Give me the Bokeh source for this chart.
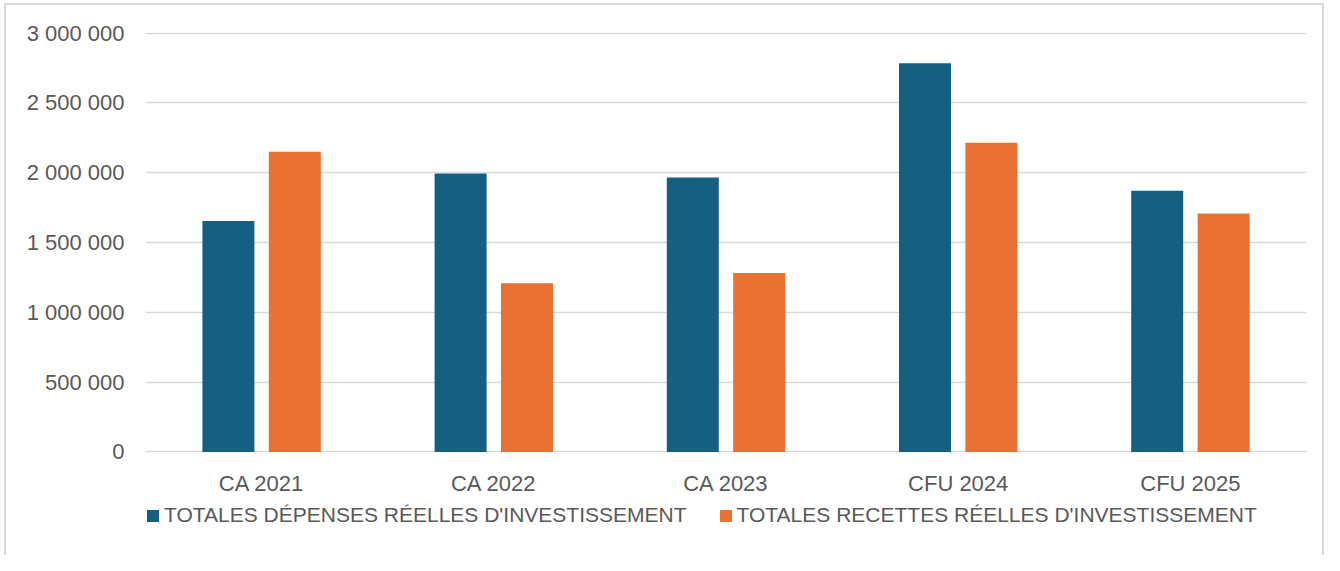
from bokeh.plotting import figure
from bokeh.layouts import column
from bokeh.models import ColumnDataSource, FactorRange, FixedTicker, Legend, LegendItem, Range1d
from bokeh.transform import dodge
from bokeh.embed import file_html
from bokeh.resources import INLINE

categories = ["CA 2021", "CA 2022", "CA 2023", "CFU 2024", "CFU 2025"]
depenses = [1654000, 1995000, 1966000, 2784000, 1870000]
recettes = [2150000, 1209000, 1281000, 2214000, 1707000]
series_names = ["TOTALES DÉPENSES RÉELLES D'INVESTISSEMENT",
                "TOTALES RECETTES RÉELLES D'INVESTISSEMENT"]
y_ticks = [0, 500000, 1000000, 1500000, 2000000, 2500000, 3000000]
y_tick_labels = ["0", "500 000", "1 000 000", "1 500 000", "2 000 000", "2 500 000", "3 000 000"]

BLUE = "#156082"
ORANGE = "#E97132"
TEXT = "#595959"
GRID = "#D9D9D9"
FONT = "Liberation Sans"

src = ColumnDataSource(dict(cat=categories, dep=depenses, rec=recettes))

# ---- main chart ----
p = figure(x_range=FactorRange(*categories, range_padding=0),
           y_range=Range1d(-4000, 3004000),
           width=1324, height=500, output_backend="svg", toolbar_location=None,
           min_border_left=145, min_border_right=18, min_border_top=32, min_border_bottom=48)
p.outline_line_color = None
p.border_fill_color = None
p.background_fill_color = None
p.styles = {"box-shadow": ("inset 4px 0 0 #ffffff, inset 0 3px 0 #ffffff, "
                           "inset 6px 0 0 #d9d9d9, inset 0 5px 0 #d9d9d9, "
                           "inset -2px 0 0 #d9d9d9")}

p.vbar(x=dodge("cat", -0.143, range=p.x_range), top="dep", width=0.224, source=src,
       fill_color=BLUE, line_color=None)
p.vbar(x=dodge("cat", 0.143, range=p.x_range), top="rec", width=0.224, source=src,
       fill_color=ORANGE, line_color=None)

p.yaxis.ticker = FixedTicker(ticks=y_ticks)
p.yaxis.major_label_overrides = {t: l for t, l in zip(y_ticks, y_tick_labels)}
for ax in (p.xaxis[0], p.yaxis[0]):
    ax.axis_line_color = None
    ax.major_tick_line_color = None
    ax.minor_tick_line_color = None
    ax.major_label_text_color = TEXT
    ax.major_label_text_font = FONT
    ax.major_label_text_font_size = "22px"
p.yaxis.major_label_standoff = 15
p.xaxis.major_label_standoff = 12

p.xgrid.grid_line_color = None
p.ygrid.ticker = FixedTicker(ticks=y_ticks)
p.ygrid.grid_line_color = GRID
p.ygrid.grid_line_width = 1.6

# ---- legend strip ----
leg = figure(width=1324, height=55, x_range=(0, 1), y_range=(0, 1),
             x_axis_type=None, y_axis_type=None, output_backend="svg", toolbar_location=None,
             min_border=0)
leg.outline_line_color = None
leg.border_fill_color = None
leg.background_fill_color = None
leg.grid.visible = False
leg.styles = {"box-shadow": "inset 4px 0 0 #ffffff, inset 6px 0 0 #d9d9d9, inset -2px 0 0 #d9d9d9"}

# off-screen swatch sources (only used to draw the legend keys)
swatch = ColumnDataSource(dict(x=[-5], top=[-5]))
g1 = leg.vbar(x="x", top="top", width=0.1, source=swatch, fill_color=BLUE, line_color=None)
g2 = leg.vbar(x="x", top="top", width=0.1, source=swatch, fill_color=ORANGE, line_color=None)

legend = Legend(items=[LegendItem(label=series_names[0], renderers=[g1]),
                       LegendItem(label=series_names[1], renderers=[g2])],
                orientation="horizontal", location=(0, 28),
                padding=0, margin=0, spacing=31, label_standoff=4,
                glyph_width=15, glyph_height=15,
                label_text_font=FONT, label_text_font_size="21px", label_text_color=TEXT,
                border_line_color=None, background_fill_alpha=0)
leg.add_layout(legend, "center")

layout = column(p, leg, spacing=0)
open("out.html", "w").write(file_html(layout, INLINE))
